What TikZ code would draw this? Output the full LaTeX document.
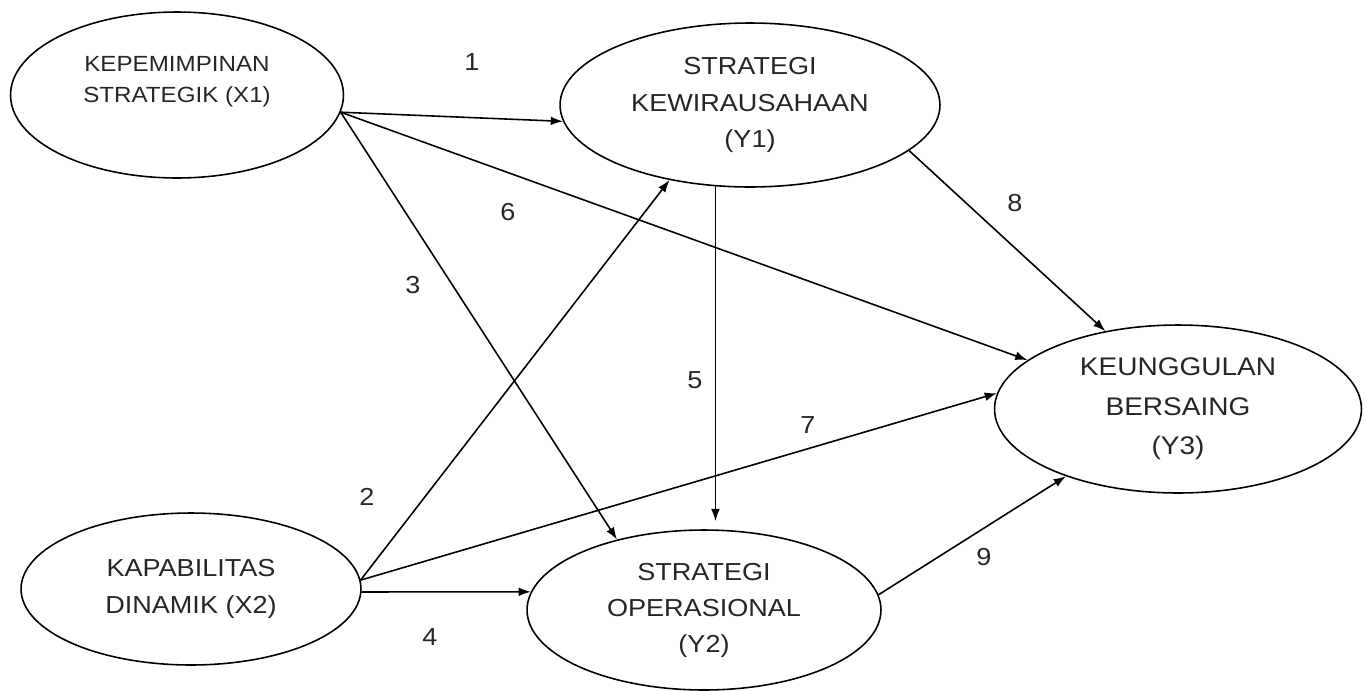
\documentclass[tikz,border=0pt]{standalone}
\usepackage{fontspec}
\setmainfont[FakeStretch=1.1]{Liberation Sans}
\usetikzlibrary{arrows.meta,shapes.geometric}
\tikzset{
  var/.style={draw, ellipse, line width=0.9pt, inner sep=0pt, align=center, text=black!85},
  arr/.style={line width=0.9pt, -{Latex[length=7pt,width=5pt]}},
  num/.style={font=\fontsize{14}{16}\selectfont, text=black!85}
}
\begin{document}
\begin{tikzpicture}[x=0.02cm, y=-0.02cm]
\useasboundingbox (0,0) rectangle (1365,690);
% variabel
\node[var, minimum width=6.66cm, minimum height=3.32cm, font=\fontsize{12.5}{17.5}\selectfont] (X1) at (177,95) {KEPEMIMPINAN\\STRATEGIK (X1)\\~};
\node[var, minimum width=7.6cm, minimum height=3.28cm, font=\fontsize{14}{21}\selectfont] (Y1) at (750,105) {STRATEGI\\KEWIRAUSAHAAN\\(Y1)};
\node[var, minimum width=7.34cm, minimum height=3.36cm, font=\fontsize{14.5}{22.5}\selectfont] (Y3) at (1178,409) {KEUNGGULAN\\BERSAING\\(Y3)};
\node[var, minimum width=6.8cm, minimum height=3.04cm, font=\fontsize{14}{21}\selectfont] (X2) at (191,589) {KAPABILITAS\\DINAMIK (X2)};
\node[var, minimum width=7.08cm, minimum height=3.2cm, font=\fontsize{14}{20.5}\selectfont] (Y2) at (704,610) {STRATEGI\\OPERASIONAL\\(Y2)};
% jalur
\draw[arr] (X1.-6) -- (Y1.185);
\draw[arr] (X1.-6) -- (Y3.162);
\draw[arr] (X1.-6) -- (Y2.141);
\draw[arr] (X2.3) -- (Y1.223);
\draw[arr] (X2.3) -- (Y3.175);
\draw[arr] (X2.-1) -- (Y2.174);
\draw[arr, shorten >=0.16cm] (Y1.247) -- (Y1.247 |- Y2.north);
\draw[arr] (Y1.-16) -- (Y3.133);
\draw[arr] (Y2.5) -- (Y3.211);
% nomor jalur
\node[num] (n1) at (472,62) {1};
\node[num] (n2) at (367,497) {2};
\node[num] (n3) at (413,285) {3};
\node[num] (n4) at (430,637) {4};
\node[num] (n5) at (695,380) {5};
\node[num] (n6) at (508,212) {6};
\node[num] (n7) at (808,425) {7};
\node[num] (n8) at (1015,203) {8};
\node[num] (n9) at (984,557) {9};
\end{tikzpicture}
\end{document}
